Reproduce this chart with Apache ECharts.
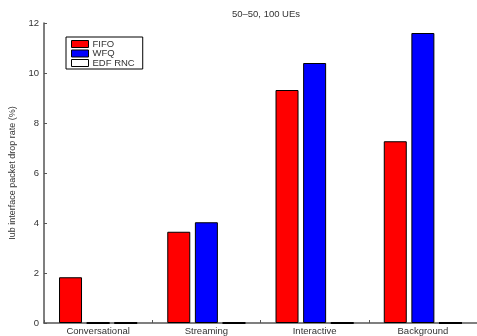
<!DOCTYPE html>
<html>
<head>
<meta charset="utf-8">
<script src="https://cdn.jsdelivr.net/npm/echarts@6/dist/echarts.min.js"></script>
<style>
  html, body { margin: 0; padding: 0; background: #fff; }
  #chart { width: 477px; height: 336px; }
</style>
</head>
<body>
<div id="chart"></div>
<script>
// Iub packet drop rate per traffic class for three RNC schedulers
const categories = ['Conversational', 'Streaming', 'Interactive', 'Background'];
const fifo = [1.83, 3.65, 9.32, 7.27];
const wfq = [0, 4.03, 10.4, 11.6];
const edfRnc = [0, 0, 0, 0];
const yTicks = [0, 2, 4, 6, 8, 10, 12];

const font = 'Liberation Sans, Arial, Helvetica, sans-serif';
const ink = '#333';
const fs = 9.5;

const chart = echarts.init(document.getElementById('chart'), null, { renderer: 'canvas' });

// zero-height bars are drawn as a heavier black edge
function barData(values) {
  return values.map(v => v === 0
    ? { value: v, itemStyle: { borderWidth: 2.2 } }
    : v);
}

function barSeries(name, data, color) {
  return {
    name: name,
    type: 'bar',
    data: barData(data),
    barWidth: 23,
    barGap: '20%',
    itemStyle: { color: color, borderColor: '#000', borderWidth: 1 },
    emphasis: { disabled: true },
    animation: false
  };
}

chart.setOption({
  animation: false,
  backgroundColor: '#fff',
  title: {
    text: '50\u201350, 100 UEs',
    left: 261,
    textAlign: 'center',
    top: 4,
    textStyle: { fontFamily: font, fontSize: fs, fontWeight: 'normal', color: ink }
  },
  legend: {
    orient: 'vertical',
    left: 66,
    top: 37,
    padding: [2, 8, 1, 5],
    itemGap: -0.5,
    itemWidth: 17,
    itemHeight: 7,
    borderColor: '#000',
    borderWidth: 1,
    backgroundColor: '#fff',
    selectedMode: false,
    textStyle: { fontFamily: font, fontSize: fs, color: ink, padding: [0, 0, 0, -1] },
    data: [
      { name: 'FIFO', icon: 'rect', itemStyle: { color: '#ff0000', borderColor: '#000', borderWidth: 1 } },
      { name: 'WFQ', icon: 'rect', itemStyle: { color: '#0000ff', borderColor: '#000', borderWidth: 1 } },
      { name: 'EDF RNC', icon: 'rect', itemStyle: { color: '#fff', borderColor: '#000', borderWidth: 1 } }
    ]
  },
  grid: { left: 43, top: 23, width: 437, height: 300, containLabel: false },
  xAxis: {
    type: 'category',
    data: categories,
    boundaryGap: true,
    axisLine: { lineStyle: { color: '#555', width: 1.5 } },
    axisTick: { show: true, inside: true, length: 3, lineStyle: { color: '#555' } },
    axisLabel: { fontFamily: font, fontSize: fs, color: ink, margin: 3, interval: 0 },
    splitLine: { show: false }
  },
  yAxis: {
    type: 'value',
    min: yTicks[0],
    max: yTicks[yTicks.length - 1],
    interval: 2,
    name: 'Iub interface packet drop rate (%)',
    nameLocation: 'middle',
    nameGap: 27,
    nameRotate: 90,
    nameTextStyle: { fontFamily: font, fontSize: 9, color: ink },
    axisLine: { show: true, lineStyle: { color: '#555', width: 1.5 } },
    axisTick: { show: true, inside: true, length: 3, lineStyle: { color: '#555' } },
    axisLabel: { fontFamily: font, fontSize: fs, color: ink, margin: 5 },
    splitLine: { show: false }
  },
  series: [
    barSeries('FIFO', fifo, '#ff0000'),
    barSeries('WFQ', wfq, '#0000ff'),
    barSeries('EDF RNC', edfRnc, '#ffffff')
  ]
});
</script>
</body>
</html>
